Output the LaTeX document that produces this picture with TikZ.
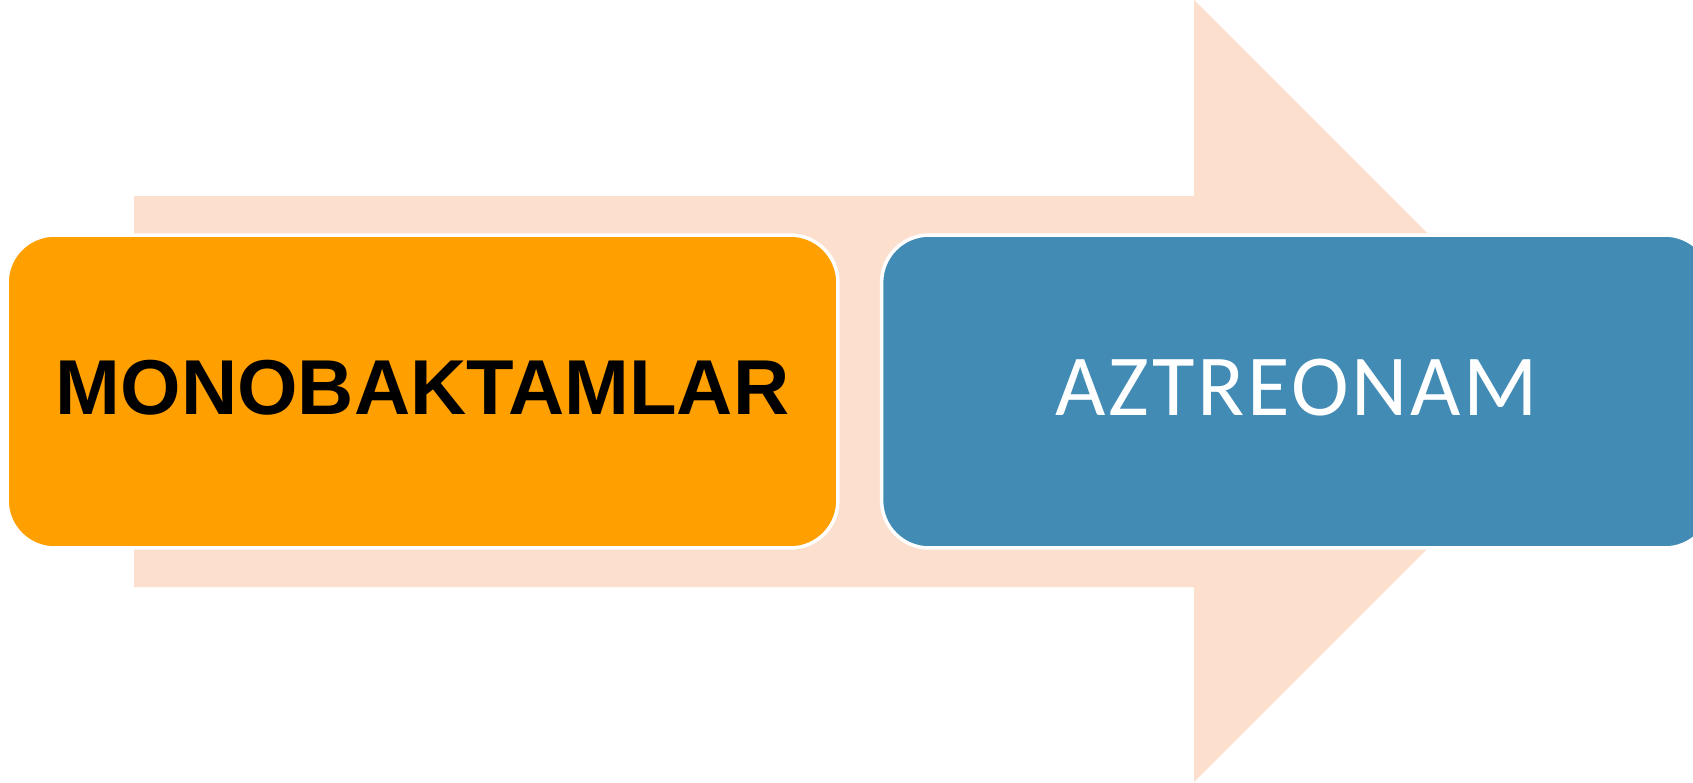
\documentclass[tikz,border=0pt]{standalone}
\usepackage{fontspec}
\setmainfont{Liberation Sans}
\newfontfamily\boldsans{Liberation Sans}
\newfontfamily\lightsans[LetterSpace=3.2]{Carlito}
\definecolor{peach}{RGB}{253,223,205}
\definecolor{orangebox}{RGB}{255,159,0}
\definecolor{bluebox}{RGB}{66,139,180}
\tikzset{
  card/.style={draw=white, line width=0.07cm, rounded corners=0.95cm,
    minimum width=16.62cm, minimum height=6.26cm, inner sep=0pt,
    text depth=0.16cm, anchor=center},
  leftcard/.style={card, fill=orangebox, text=black,
    font=\boldsans\bfseries\fontsize{44.3pt}{50pt}\selectfont},
  rightcard/.style={card, fill=bluebox, text=white,
    font=\lightsans\fontsize{49.5pt}{56pt}\selectfont},
}
\begin{document}
\begin{tikzpicture}[x=0.02cm, y=-0.02cm]
\useasboundingbox (0,0) rectangle (1693,782);
\fill[white] (0,0) rectangle (1693,782);
% big background arrow
\fill[peach] (134,196) -- (1194,196) -- (1194,0) -- (1585,391) -- (1194,782) -- (1194,587) -- (134,587) -- cycle;
% boxes
\node[leftcard] (mono) at (422.5,391.5) {MONOBAKTAMLAR};
\node[rightcard] (aztr) at (1297,391.5) {AZTREONAM};
\end{tikzpicture}
\end{document}
